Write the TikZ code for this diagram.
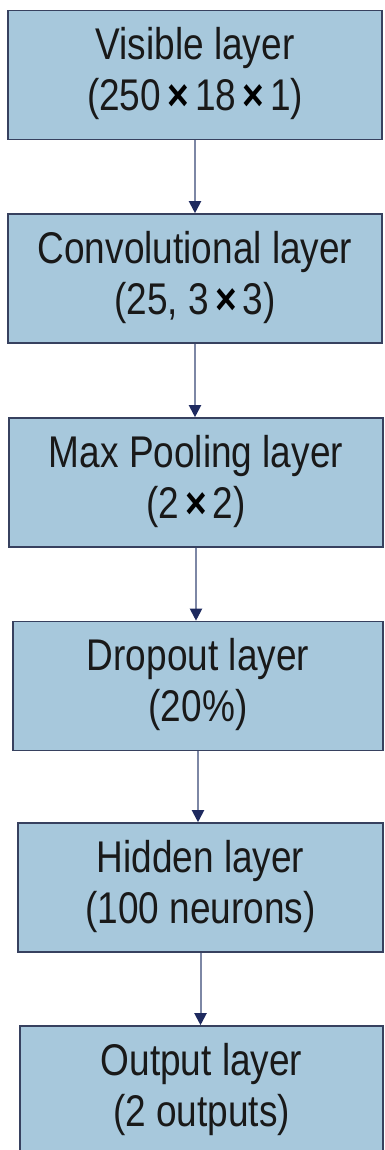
\documentclass[tikz,border=0pt]{standalone}
\usepackage{fontspec}
\setmainfont{Liberation Sans}
\usetikzlibrary{arrows.meta}

\definecolor{layerfill}{RGB}{167,200,220}
\definecolor{layerdraw}{RGB}{55,65,95}
\definecolor{flowline}{RGB}{125,135,165}
\definecolor{flowtip}{RGB}{30,42,95}
\definecolor{textdark}{RGB}{25,25,25}
\newcommand{\bx}{\,{\bfseries\color{black}×}\,}
\newcommand{\layertext}[2]{\scalebox{1}[1.2]{\begin{tabular}{@{}c@{}}#1\\#2\end{tabular}}}

\begin{document}
\begin{tikzpicture}[x=1pt,y=-1pt,
  layer/.style={draw=layerdraw,fill=layerfill,line width=1.6pt,minimum height=129pt,
    inner sep=0pt,text=textdark,font=\fontsize{37}{42.5}\selectfont},
  flow/.style={flowline,line width=2pt,-{Triangle[length=12pt,width=12pt,color=flowtip]}}]
\useasboundingbox (0,0) rectangle (384,1150);

\node[layer,minimum width=374pt] (visible) at (195,75) {\layertext{Visible layer}{(250\bx 18\bx 1)}};
\node[layer,minimum width=374pt] (conv) at (195,278.5) {\layertext{Convolutional layer}{(25, 3\bx 3)}};
\node[layer,minimum width=374pt] (pool) at (196,482.5) {\layertext{Max Pooling layer}{(2\bx 2)}};
\node[layer,minimum width=370pt] (drop) at (198,686) {\layertext{Dropout layer}{(20\%)}};
\node[layer,minimum width=365pt] (hidden) at (200.5,887.5) {\layertext{Hidden layer}{(100 neurons)}};
\node[layer,minimum width=363pt] (output) at (201.5,1090.5) {\layertext{Output layer}{(2 outputs)}};

%\draw[help lines] (0,0) grid[step=50] (384,1150);

\draw[flow] (visible.south) -- (visible.south |- conv.north);
\draw[flow] (conv.south) -- (conv.south |- pool.north);
\draw[flow] (pool.south) -- (pool.south |- drop.north);
\draw[flow] (drop.south) -- (drop.south |- hidden.north);
\draw[flow] (hidden.south) -- (hidden.south |- output.north);

\end{tikzpicture}
\end{document}
